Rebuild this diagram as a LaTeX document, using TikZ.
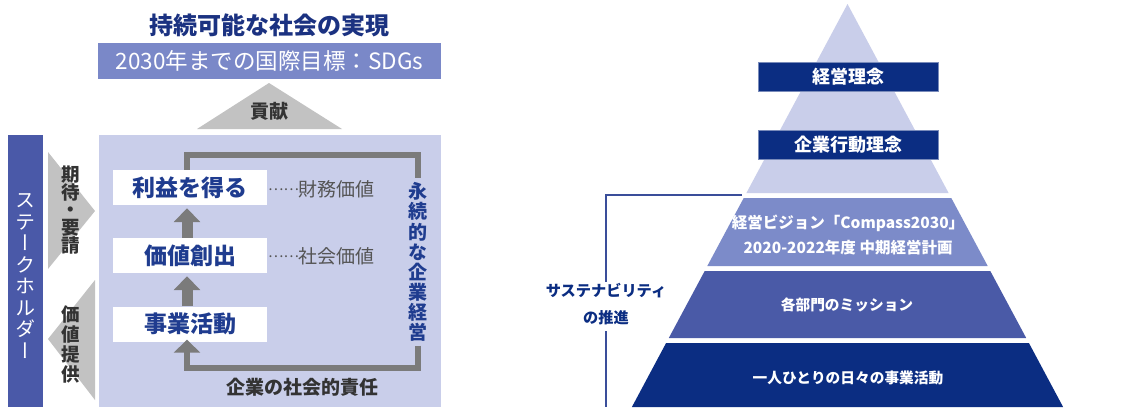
\documentclass[tikz,border=0pt]{standalone}
\usepackage{fontspec}
\setmainfont{Noto Sans CJK JP}
\usetikzlibrary{arrows.meta,calc}
\definecolor{navy}{HTML}{0B2D82}
\definecolor{titlenavy}{HTML}{1B3281}
\definecolor{sdgblue}{HTML}{7A88C8}
\definecolor{lav}{HTML}{C9CEEA}
\definecolor{barblue}{HTML}{4A59A8}
\definecolor{chevgray}{HTML}{C2C2C2}
\definecolor{arrgray}{HTML}{7B7B7B}
\definecolor{txtgray}{HTML}{333333}
\definecolor{lblgray}{HTML}{555555}
\definecolor{boxnavy}{HTML}{1F3C8F}
\definecolor{sectwo}{HTML}{7C8BC9}
\definecolor{secthree}{HTML}{4A5AA7}
\definecolor{brkblue}{HTML}{3A4E9A}
\newcommand\myfs[1]{\fontsize{#1pt}{#1pt}\selectfont}
\newcommand\myfsl[2]{\fontsize{#1pt}{#2pt}\selectfont}
\newcommand\vfeat{\addfontfeature{RawFeature=+vert}}
\newcommand\leaderdots{\raisebox{5.5pt}{\myfs{14.5}……}}
\tikzset{
  wbox/.style={fill=white, minimum width=154pt, minimum height=35pt, inner sep=0pt, text=boxnavy, font=\myfs{23}\bfseries},
  upar/.style={draw=arrgray, line width=11pt, -{Triangle[width=26pt,length=14pt]}},
  loopln/.style={draw=arrgray, line width=6pt, line join=miter},
  lbl/.style={anchor=west, inner sep=0pt, text=lblgray, font=\myfs{19}},
  vtext/.style={inner sep=0pt, align=center},
  pbox/.style={fill=navy, draw=navy!55!white, line width=0.7pt, minimum width=180pt, minimum height=29pt, inner sep=0pt, text=white, font=\myfs{18}\bfseries},
  ptext/.style={inner sep=0pt, text=white, font=\myfs{15}\bfseries, align=center},
  brk/.style={draw=brkblue, line width=1.6pt},
}
\begin{document}
\begin{tikzpicture}[x=1pt,y=-1pt]
\useasboundingbox (0,0) rectangle (1121,407);
\fill[white] (0,0) rectangle (1121,407);

% ---------- left part ----------
\node[inner sep=0pt, font=\myfs{24}\bfseries, text=titlenavy] (title) at (269,25) {持続可能な社会の実現};
\node[fill=sdgblue, minimum width=343pt, minimum height=36pt, inner sep=0pt, text=white, font=\myfs{22.5}] (sdg) at (269.5,61) {2030年までの国際目標：SDGs};
\fill[chevgray] (197,129) -- (269,83) -- (342,129) -- cycle;
\node[inner sep=0pt, font=\myfs{19}\bfseries, text=txtgray] (kouken) at (269,111) {貢献};

\fill[lav] (99,135) rectangle (441,407);
\fill[barblue] (8,135) rectangle (43,407);
\node[vtext, text=white, font=\myfsl{20}{21.5}\vfeat] (stake) at (26,276) {ス\\テ\\ー\\ク\\ホ\\ル\\ダ\\ー};

\fill[chevgray] (48,152) -- (95,211) -- (48,269) -- cycle;
\fill[chevgray] (95,280) -- (48,339) -- (95,400) -- cycle;
\node[vtext, text=txtgray, font=\myfsl{18.5}{17.8}\bfseries\vfeat] (kitai) at (71,210) {期\\待\\・\\要\\請};
\node[vtext, text=txtgray, font=\myfsl{18.5}{20}\bfseries\vfeat] (teikyo) at (71,344) {価\\値\\提\\供};

\node[wbox] (b1) at (190,187.5) {利益を得る};
\node[wbox] (b2) at (190,255.5) {価値創出};
\node[wbox] (b3) at (190,324) {事業活動};

\node[lbl] (l1) at (268,189) {\leaderdots 財務価値};
\node[lbl] (l2) at (268,256) {\leaderdots 社会価値};

\node[vtext, text=boxnavy, font=\myfsl{19}{20.1}\bfseries\vfeat] (eik) at (418,262) {永\\続\\的\\な\\企\\業\\経\\営};

\coordinate (ax) at (187,0);
\coordinate (tb) at (0,155);
\coordinate (lb) at (0,368);
\draw[upar, shorten >=3pt] (ax |- b2.north) -- (ax |- b1.south);
\draw[upar, shorten >=3pt] (ax |- b3.north) -- (ax |- b2.south);
\draw[loopln] (ax |- b1.north) -- (ax |- tb) -- (eik.north |- tb) -- ([yshift=4pt]eik.north);
\draw[loopln, -{Triangle[width=26pt,length=13pt]}, shorten >=-2pt] ([yshift=-4pt]eik.south) -- (eik.south |- lb) -- (ax |- lb) -- (ax |- b3.south);

\node[inner sep=0pt, font=\myfs{19}\bfseries, text=txtgray] (csr) at (302,387) {企業の社会的責任};

% ---------- pyramid ----------
\fill[lav] (847.5,4) -- (948.6,193) -- (746.4,193) -- cycle;
\fill[sectwo] (743.7,198) -- (951.3,198) -- (987.7,266) -- (707.3,266) -- cycle;
\fill[secthree] (704.7,271) -- (990.3,271) -- (1026.2,338) -- (668.8,338) -- cycle;
\fill[navy] (666.1,343) -- (1028.9,343) -- (1063.1,407) -- (631.9,407) -- cycle;

\node[pbox] (k1) at (848,76.5) {経営理念};
\node[pbox] (k2) at (848,144.5) {企業行動理念};
\node[ptext, font=\myfsl{15.5}{25}\bfseries] (s2) at (848,235) {経営ビジョン「Compass2030」\\2020-2022年度 中期経営計画};
\node[ptext, font=\myfs{14.7}\bfseries] (s3) at (847,305) {各部門のミッション};
\node[ptext, font=\myfs{14.7}\bfseries] (s4) at (848,378) {一人ひとりの日々の事業活動};

\node[inner sep=0pt, align=center, text=navy, font=\myfsl{15.2}{27}\bfseries] (su) at (606,304) {サステナビリティ\\の推進};
\coordinate (s2l) at (742,195);
\coordinate (bot) at (0,407);
\draw[brk] (s2l) -- (s2l -| su.north) -- ([yshift=1pt]su.north);
\draw[brk] ([yshift=-6pt]su.south) -- (su.south |- bot);
\end{tikzpicture}
\end{document}
